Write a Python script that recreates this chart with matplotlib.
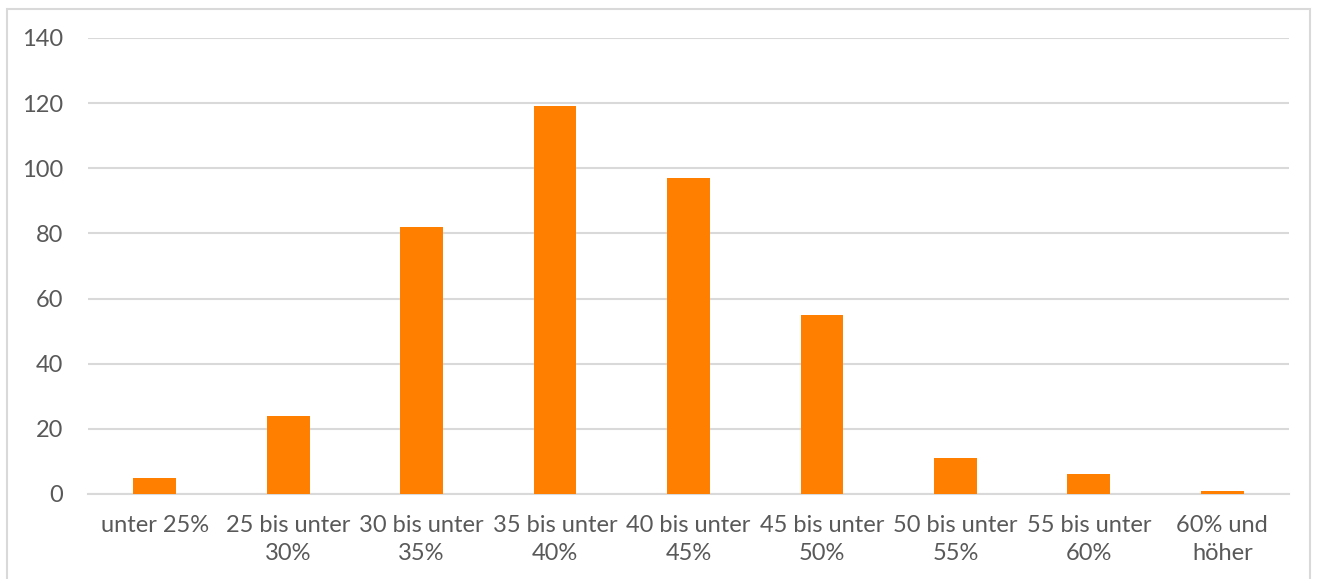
import matplotlib.pyplot as plt
from matplotlib.patches import Rectangle

plt.rcParams.update({
    "font.family": ["Lato", "DejaVu Sans"],
    "font.size": 17,
    "savefig.dpi": 100,
})

categories = [
    "unter 25%", "25 bis unter\n30%", "30 bis unter\n35%", "35 bis unter\n40%",
    "40 bis unter\n45%", "45 bis unter\n50%", "50 bis unter\n55%",
    "55 bis unter\n60%", "60% und\nhöher",
]
counts = [5, 24, 82, 119, 97, 55, 11, 6, 1]
yticks = [0, 20, 40, 60, 80, 100, 120, 140]

text_color = "#595959"
grid_color = "#d9d9d9"
bar_color = "#ff7f00"

fig = plt.figure(figsize=(13.17, 5.79))
ax = fig.add_axes([88 / 1317, 1 - 494 / 579, (1289 - 88) / 1317, (494 - 38) / 579])

x = range(len(categories))
ax.bar(x, counts, width=0.32, color=bar_color, zorder=3)

ax.set_xlim(-0.5, len(categories) - 0.5)
ax.set_ylim(0, 140)
ax.set_yticks(yticks)
ax.set_xticks(list(x))
ax.set_xticklabels(categories, color=text_color, linespacing=1.4)
ax.tick_params(axis="both", length=0, colors=text_color, labelsize=17)
ax.tick_params(axis="y", pad=18)
ax.tick_params(axis="x", pad=15)
ax.grid(axis="y", color=grid_color, linewidth=1.5, zorder=0)

for side in ["top", "right", "left"]:
    ax.spines[side].set_visible(False)
ax.spines["bottom"].set_color(grid_color)
ax.spines["bottom"].set_linewidth(1.5)

# light frame around the whole chart
fig.patches.append(Rectangle(
    (7 / 1317, -0.1), (1310 - 7) / 1317, 1.1 - 9 / 579,
    transform=fig.transFigure, fill=False, edgecolor=grid_color, linewidth=1.5,
))

fig.savefig("out.png")
